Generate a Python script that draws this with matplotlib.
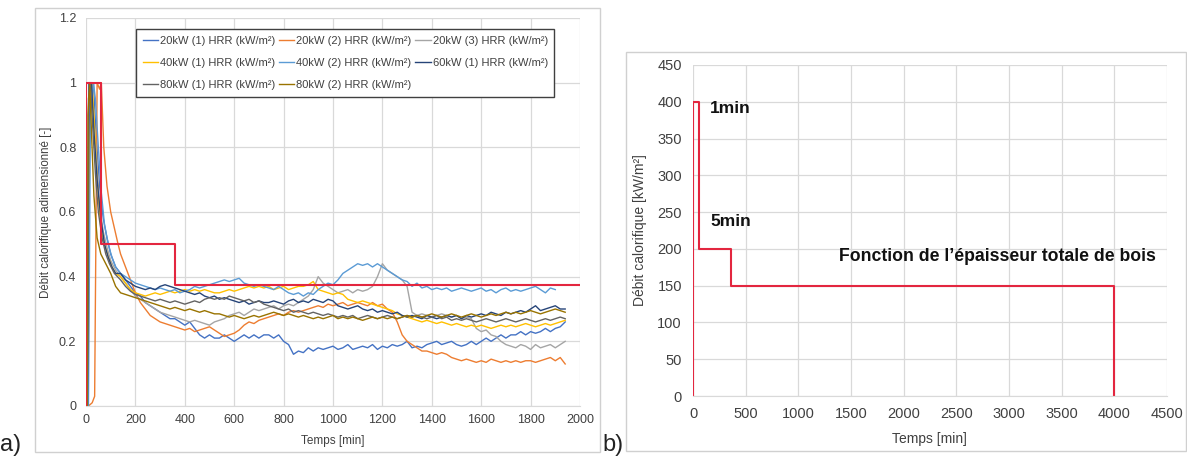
import matplotlib
matplotlib.use('Agg')
import matplotlib.pyplot as plt
from matplotlib.patches import Rectangle
from matplotlib.ticker import FuncFormatter, MultipleLocator

plt.rcParams['font.family'] = ['Liberation Sans', 'DejaVu Sans']

# ---- panel a) : normalised HRR curves ----
# start of each curve (minutes, value)
head_t = {
    '20kW (1)': [0, 8, 14, 22, 30, 40, 55, 70, 85, 100, 120],
    '20kW (2)': [0, 10, 25, 35, 45, 55, 62, 72, 85, 100, 115, 130],
    '20kW (3)': [0, 6, 12, 20, 28, 40, 55, 70, 85, 100, 120],
    '40kW (1)': [0, 8, 14, 24, 32, 45, 60, 75, 90, 105, 120],
    '40kW (2)': [0, 10, 18, 30, 38, 50, 62, 75, 90, 105, 120],
    '60kW (1)': [0, 6, 12, 22, 32, 45, 60, 75, 90, 105, 120],
    '80kW (1)': [0, 5, 10, 18, 26, 38, 50, 65, 80, 95, 115],
    '80kW (2)': [0, 5, 8, 15, 22, 32, 45, 60, 80, 100, 120],
}
head_y = {
    '20kW (1)': [0, 0, 1.0, 0.97, 1.0, 0.85, 0.68, 0.58, 0.52, 0.47, 0.43],
    '20kW (2)': [0, 0, 0.01, 0.03, 1.0, 0.98, 1.0, 0.8, 0.68, 0.6, 0.55, 0.5],
    '20kW (3)': [0, 0, 0.9, 1.0, 0.95, 0.8, 0.62, 0.54, 0.49, 0.45, 0.42],
    '40kW (1)': [0, 0, 0.8, 1.0, 0.9, 0.7, 0.55, 0.5, 0.46, 0.43, 0.41],
    '40kW (2)': [0, 0, 0.9, 1.0, 0.95, 0.8, 0.66, 0.56, 0.5, 0.46, 0.43],
    '60kW (1)': [0, 0, 1.0, 1.0, 0.85, 0.7, 0.58, 0.5, 0.46, 0.43, 0.41],
    '80kW (1)': [0, 0, 0.95, 1.0, 0.88, 0.72, 0.6, 0.52, 0.47, 0.44, 0.41],
    '80kW (2)': [0, 0, 0.9, 1.0, 0.85, 0.65, 0.52, 0.47, 0.44, 0.41, 0.37],
}

# rest of each curve, sampled every 20 min from 140 min
tail_t = list(range(140, 1941, 20))
tail_y = {
    '20kW (1)': [0.41, 0.39, 0.37, 0.35, 0.34, 0.32, 0.31, 0.30, 0.29, 0.28,
                 0.27, 0.27, 0.26, 0.25, 0.26, 0.24, 0.22, 0.21, 0.22, 0.21,
                 0.21, 0.22, 0.21, 0.20, 0.21, 0.22, 0.21, 0.22, 0.21, 0.22,
                 0.22, 0.21, 0.22, 0.20, 0.19, 0.16, 0.17, 0.165, 0.18, 0.17,
                 0.18, 0.175, 0.18, 0.185, 0.175, 0.18, 0.19, 0.175, 0.18, 0.185,
                 0.18, 0.19, 0.175, 0.185, 0.18, 0.19, 0.185, 0.19, 0.20, 0.18,
                 0.185, 0.18, 0.19, 0.195, 0.20, 0.19, 0.195, 0.20, 0.19, 0.185,
                 0.19, 0.20, 0.19, 0.20, 0.21, 0.20, 0.21, 0.22, 0.21, 0.22,
                 0.22, 0.23, 0.22, 0.23, 0.225, 0.23, 0.24, 0.23, 0.24, 0.245,
                 0.26],
    '20kW (2)': [0.47, 0.43, 0.39, 0.35, 0.32, 0.30, 0.28, 0.27, 0.26, 0.255,
                 0.25, 0.245, 0.24, 0.235, 0.24, 0.23, 0.235, 0.24, 0.245, 0.235,
                 0.225, 0.215, 0.22, 0.225, 0.235, 0.25, 0.26, 0.255, 0.265, 0.27,
                 0.275, 0.28, 0.285, 0.28, 0.29, 0.295, 0.29, 0.295, 0.30, 0.305,
                 0.31, 0.305, 0.315, 0.31, 0.315, 0.32, 0.31, 0.315, 0.32, 0.315,
                 0.31, 0.32, 0.31, 0.315, 0.30, 0.29, 0.26, 0.22, 0.20, 0.19,
                 0.18, 0.17, 0.17, 0.165, 0.16, 0.165, 0.16, 0.15, 0.145, 0.14,
                 0.145, 0.14, 0.135, 0.14, 0.135, 0.145, 0.14, 0.135, 0.14, 0.135,
                 0.14, 0.135, 0.14, 0.14, 0.135, 0.14, 0.145, 0.15, 0.14, 0.15,
                 0.13],
    '20kW (3)': [0.40, 0.38, 0.36, 0.34, 0.33, 0.32, 0.31, 0.30, 0.29, 0.285,
                 0.28, 0.275, 0.27, 0.265, 0.26, 0.265, 0.26, 0.255, 0.25, 0.26,
                 0.265, 0.27, 0.28, 0.285, 0.29, 0.28, 0.29, 0.30, 0.295, 0.30,
                 0.305, 0.31, 0.30, 0.31, 0.315, 0.31, 0.32, 0.33, 0.34, 0.36,
                 0.40, 0.38, 0.37, 0.36, 0.35, 0.355, 0.36, 0.35, 0.36, 0.355,
                 0.36, 0.37, 0.40, 0.44, 0.42, 0.41, 0.40, 0.39, 0.37, 0.29,
                 0.28, 0.285, 0.28, 0.275, 0.28, 0.285, 0.28, 0.275, 0.28, 0.27,
                 0.275, 0.27, 0.24, 0.23, 0.235, 0.22, 0.215, 0.20, 0.19, 0.185,
                 0.18, 0.19, 0.185, 0.175, 0.19, 0.18, 0.185, 0.19, 0.18, 0.19,
                 0.20],
    '40kW (1)': [0.40, 0.38, 0.36, 0.35, 0.345, 0.34, 0.345, 0.35, 0.345, 0.35,
                 0.355, 0.35, 0.355, 0.36, 0.355, 0.36, 0.355, 0.36, 0.355, 0.35,
                 0.35, 0.355, 0.36, 0.355, 0.36, 0.365, 0.37, 0.365, 0.37, 0.365,
                 0.37, 0.36, 0.365, 0.37, 0.36, 0.365, 0.37, 0.37, 0.375, 0.385,
                 0.36, 0.355, 0.35, 0.345, 0.35, 0.345, 0.33, 0.325, 0.32, 0.325,
                 0.32, 0.315, 0.31, 0.305, 0.30, 0.295, 0.285, 0.28, 0.275, 0.27,
                 0.265, 0.26, 0.265, 0.26, 0.255, 0.26, 0.255, 0.25, 0.255, 0.25,
                 0.245, 0.25, 0.245, 0.25, 0.245, 0.24, 0.245, 0.25, 0.245, 0.25,
                 0.245, 0.25, 0.255, 0.25, 0.245, 0.25, 0.255, 0.25, 0.255, 0.26,
                 0.265],
    '40kW (2)': [0.41, 0.40, 0.39, 0.38, 0.375, 0.37, 0.365, 0.36, 0.365, 0.36,
                 0.355, 0.36, 0.35, 0.355, 0.36, 0.37, 0.365, 0.37, 0.375, 0.38,
                 0.385, 0.39, 0.385, 0.39, 0.395, 0.38, 0.375, 0.37, 0.375, 0.37,
                 0.365, 0.36, 0.37, 0.36, 0.35, 0.345, 0.35, 0.34, 0.35, 0.345,
                 0.36, 0.37, 0.38, 0.375, 0.39, 0.41, 0.42, 0.43, 0.44, 0.435,
                 0.44, 0.43, 0.44, 0.43, 0.42, 0.41, 0.40, 0.39, 0.385, 0.37,
                 0.38, 0.365, 0.37, 0.36, 0.365, 0.36, 0.365, 0.355, 0.36, 0.365,
                 0.36, 0.355, 0.36, 0.365, 0.355, 0.36, 0.35, 0.36, 0.365, 0.355,
                 0.36, 0.355, 0.36, 0.365, 0.37, 0.36, 0.35, 0.365, 0.36],
    '60kW (1)': [0.41, 0.39, 0.38, 0.37, 0.365, 0.36, 0.365, 0.36, 0.37, 0.375,
                 0.37, 0.365, 0.36, 0.355, 0.35, 0.345, 0.35, 0.34, 0.335, 0.34,
                 0.33, 0.335, 0.33, 0.325, 0.32, 0.325, 0.315, 0.32, 0.325, 0.32,
                 0.32, 0.325, 0.32, 0.315, 0.325, 0.33, 0.32, 0.325, 0.32, 0.33,
                 0.325, 0.32, 0.33, 0.325, 0.31, 0.305, 0.30, 0.305, 0.31, 0.30,
                 0.295, 0.30, 0.29, 0.295, 0.29, 0.285, 0.29, 0.28, 0.275, 0.28,
                 0.275, 0.27, 0.28, 0.275, 0.27, 0.275, 0.28, 0.275, 0.28, 0.27,
                 0.28, 0.275, 0.28, 0.285, 0.28, 0.29, 0.285, 0.28, 0.29, 0.285,
                 0.29, 0.295, 0.29, 0.30, 0.31, 0.295, 0.30, 0.305, 0.31, 0.30,
                 0.30],
    '80kW (1)': [0.39, 0.37, 0.355, 0.345, 0.34, 0.335, 0.33, 0.325, 0.33, 0.325,
                 0.32, 0.325, 0.32, 0.315, 0.32, 0.325, 0.32, 0.33, 0.335, 0.33,
                 0.335, 0.33, 0.34, 0.335, 0.33, 0.325, 0.33, 0.32, 0.325, 0.315,
                 0.31, 0.305, 0.30, 0.295, 0.30, 0.29, 0.295, 0.29, 0.285, 0.29,
                 0.285, 0.28, 0.285, 0.28, 0.275, 0.28, 0.275, 0.28, 0.27, 0.275,
                 0.28, 0.275, 0.27, 0.275, 0.28, 0.275, 0.27, 0.275, 0.28, 0.275,
                 0.28, 0.275, 0.27, 0.275, 0.28, 0.27, 0.275, 0.265, 0.27, 0.265,
                 0.27, 0.265, 0.26, 0.265, 0.27, 0.265, 0.26, 0.265, 0.27, 0.265,
                 0.26, 0.265, 0.27, 0.265, 0.26, 0.265, 0.27, 0.265, 0.27, 0.275,
                 0.27],
    '80kW (2)': [0.35, 0.345, 0.34, 0.335, 0.33, 0.325, 0.32, 0.315, 0.31, 0.305,
                 0.30, 0.305, 0.30, 0.295, 0.30, 0.295, 0.29, 0.295, 0.29, 0.285,
                 0.285, 0.28, 0.275, 0.28, 0.275, 0.27, 0.275, 0.28, 0.275, 0.28,
                 0.285, 0.29, 0.285, 0.28, 0.285, 0.28, 0.275, 0.28, 0.275, 0.27,
                 0.275, 0.27, 0.275, 0.28, 0.27, 0.275, 0.27, 0.275, 0.27, 0.265,
                 0.27, 0.275, 0.27, 0.275, 0.27, 0.275, 0.27, 0.275, 0.28, 0.275,
                 0.28, 0.275, 0.28, 0.285, 0.28, 0.275, 0.28, 0.285, 0.28, 0.275,
                 0.28, 0.285, 0.28, 0.275, 0.28, 0.285, 0.28, 0.285, 0.29, 0.285,
                 0.29, 0.285, 0.29, 0.295, 0.29, 0.285, 0.29, 0.295, 0.30, 0.295,
                 0.29],
}
colors = {
    '20kW (1)': '#4472c4', '20kW (2)': '#ed7d31', '20kW (3)': '#a5a5a5',
    '40kW (1)': '#ffc000', '40kW (2)': '#5b9bd5', '60kW (1)': '#264478',
    '80kW (1)': '#636363', '80kW (2)': '#997300',
}

# design curve (normalised)
design_a_t = [0, 0, 60, 60, 360, 360, 2000]
design_a_y = [0, 1, 1, 0.5, 0.5, 0.375, 0.375]

# ---- panel b) : design HRR ----
design_b_t = [0, 0, 60, 60, 360, 360, 4000, 4000]
design_b_y = [0, 400, 400, 200, 200, 150, 150, 0]

RED = '#e3263f'
GRID = '#d9d9d9'
TXT = '#404040'


def style_axes(ax, tick_size, xpad, ypad):
    for s in ['left', 'right', 'top']:
        ax.spines[s].set_visible(False)
    ax.spines['bottom'].set_color(GRID)
    ax.grid(True, color=GRID, lw=0.9)
    ax.set_axisbelow(True)
    ax.tick_params(length=0, labelsize=tick_size, colors=TXT)
    ax.tick_params(axis='x', pad=xpad)
    ax.tick_params(axis='y', pad=ypad)


fig = plt.figure(figsize=(11.87, 4.58), dpi=100)
W, H = 1187, 458

# outer frames
fig.patches.append(Rectangle((35 / W, 1 - 452 / H), 565 / W, 444 / H, transform=fig.transFigure,
                             fill=False, edgecolor='#d0d0d0', lw=1))
fig.patches.append(Rectangle((626 / W, 1 - 451 / H), 560 / W, 399 / H, transform=fig.transFigure,
                             fill=False, edgecolor='#d0d0d0', lw=1))

ax1 = fig.add_axes([86 / W, 1 - 406 / H, 494 / W, 388 / H])
for name in colors:
    t = head_t[name] + tail_t[:len(tail_y[name])]
    y = head_y[name] + tail_y[name]
    ax1.plot(t, y, color=colors[name], lw=1.0, label=f'{name} HRR (kW/m²)')
ax1.plot(design_a_t, design_a_y, color=RED, lw=1.5, zorder=5)
ax1.set_xlim(0, 2000)
ax1.set_ylim(0, 1.2)
ax1.xaxis.set_major_locator(MultipleLocator(200))
ax1.yaxis.set_major_locator(MultipleLocator(0.2))
ax1.yaxis.set_major_formatter(FuncFormatter(lambda v, p: f'{v:g}'))
style_axes(ax1, 9, 6, 7)
ax1.set_xlabel('Temps [min]', fontsize=8.5, color=TXT)
ax1.set_ylabel('Débit calorifique adimensionné [-]', fontsize=8.3, color=TXT)
ax1.xaxis.set_label_coords(0.5, -0.075)
ax1.yaxis.set_label_coords(-0.069, 0.5)

# legend filled row by row, as in the spreadsheet
handles, labels = ax1.get_legend_handles_labels()
order = [0, 3, 6, 1, 4, 7, 2, 5]
leg = ax1.legend([handles[i] for i in order], [labels[i] for i in order],
                 ncol=3, loc='upper left', bbox_to_anchor=(0.101, 0.972), borderaxespad=0,
                 fontsize=8, handlelength=1.4, handletextpad=0.15, columnspacing=0.35,
                 labelspacing=1.1, fancybox=False, framealpha=1, borderpad=0.6)
leg.get_frame().set_edgecolor('#404040')
leg.get_frame().set_linewidth(1.0)
for txt in leg.get_texts():
    txt.set_color(TXT)

ax2 = fig.add_axes([693 / W, 1 - 396 / H, 474 / W, 331 / H])
ax2.plot(design_b_t, design_b_y, color=RED, lw=1.5)
ax2.set_xlim(0, 4500)
ax2.set_ylim(0, 450)
ax2.xaxis.set_major_locator(MultipleLocator(500))
ax2.yaxis.set_major_locator(MultipleLocator(50))
style_axes(ax2, 10.5, 8, 8)
ax2.set_xlabel('Temps [min]', fontsize=10, color=TXT)
ax2.set_ylabel('Débit calorifique [kW/m²]', fontsize=10, color=TXT)
ax2.xaxis.set_label_coords(0.498, -0.109)
ax2.yaxis.set_label_coords(-0.097, 0.5)
ax2.text(161, 391, '1min', fontsize=12.5, fontweight='bold', va='center', color='#111111')
ax2.text(161, 237, '5min', fontsize=12.5, fontweight='bold', va='center', color='#111111')
ax2.text(1386, 189, 'Fonction de l’épaisseur totale de bois', fontsize=12.7,
         fontweight='bold', va='center', color='#111111')

fig.text(0 / W, 1 - 451 / H, 'a)', fontsize=17, va='baseline', color='#222222')
fig.text(602 / W, 1 - 451 / H, 'b)', fontsize=17, va='baseline', color='#222222')

fig.savefig('out.png', dpi=100, facecolor='white')
